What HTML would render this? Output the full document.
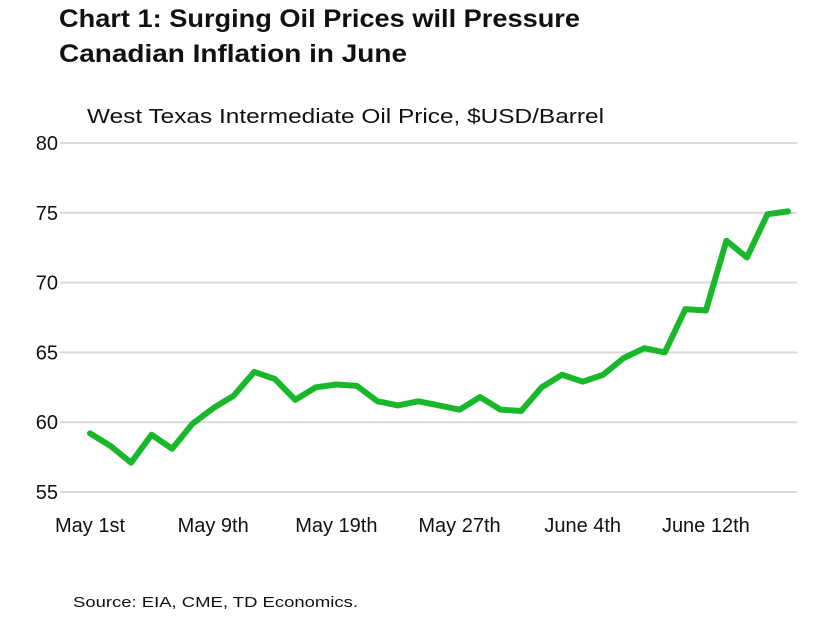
<!DOCTYPE html>
<html><head><meta charset="utf-8"><style>
body{margin:0;background:#fff;font-family:"Liberation Sans",Arial,sans-serif;}
#wrap{position:relative;width:828px;height:618px;overflow:hidden;}
</style></head><body>
<div id="wrap">
<svg id="chart" width="828" height="618">
<text x="59" y="27" font-size="25" font-weight="bold" fill="#111" textLength="521" lengthAdjust="spacingAndGlyphs">Chart 1: Surging Oil Prices will Pressure</text>
<text x="59" y="62" font-size="25" font-weight="bold" fill="#111" textLength="348" lengthAdjust="spacingAndGlyphs">Canadian Inflation in June</text>
<text x="87" y="123" font-size="20" fill="#111" textLength="517" lengthAdjust="spacingAndGlyphs">West Texas Intermediate Oil Price, $USD/Barrel</text>
<text x="73" y="607" font-size="15" fill="#111" textLength="285" lengthAdjust="spacingAndGlyphs">Source: EIA, CME, TD Economics.</text>
<g id="grid"></g><g id="yticks"></g><g id="xticks"></g><g id="series"></g>
</svg>
</div>
<script>
const categoryLabels=["May 1st","May 9th","May 19th","May 27th","June 4th","June 12th"];
const labelIndices=[0,6,12,18,24,30];
const prices=[59.2,58.3,57.1,59.1,58.1,59.9,61.0,61.9,63.6,63.1,61.6,62.5,62.7,62.6,61.5,61.2,61.5,61.2,60.9,61.8,60.9,60.8,62.5,63.4,62.9,63.4,64.6,65.3,65.0,68.1,68.0,73.0,71.8,74.9,75.1];
const yTicks=[55,60,65,70,75,80];
const NS="http://www.w3.org/2000/svg";
const x0=90,x1=788,yMin=55,yMax=80,yTop=143,yBot=492;
const xs=i=>x0+(x1-x0)*i/(prices.length-1);
const ys=v=>yBot-(v-yMin)/(yMax-yMin)*(yBot-yTop);
function mk(t,a){const e=document.createElementNS(NS,t);for(const k in a)e.setAttribute(k,a[k]);return e;}
const g=document.getElementById('grid'),yt=document.getElementById('yticks'),xt=document.getElementById('xticks'),sr=document.getElementById('series');
yTicks.forEach(v=>{
 const l=mk('line',{x1:60,x2:797,y1:ys(v),y2:ys(v),stroke:'#d9d9d9','stroke-width':2});
 
 
 g.appendChild(l);
 const t=mk('text',{x:58,y:ys(v)+7,'text-anchor':'end','font-size':20,fill:'#111'});
 t.textContent=v;
 
 
 yt.appendChild(t);
});
categoryLabels.forEach((c,k)=>{
 const t=mk('text',{x:xs(labelIndices[k]),y:532,'text-anchor':'middle','font-size':20,fill:'#111'});
 t.textContent=c;
 
 
 xt.appendChild(t);
});
const p=mk('polyline',{points:prices.map((v,i)=>xs(i)+','+ys(v)).join(' '),fill:'none',stroke:'#19b82a','stroke-width':6,'stroke-linejoin':'round','stroke-linecap':'round'});


sr.appendChild(p);
</script>
</body></html>
